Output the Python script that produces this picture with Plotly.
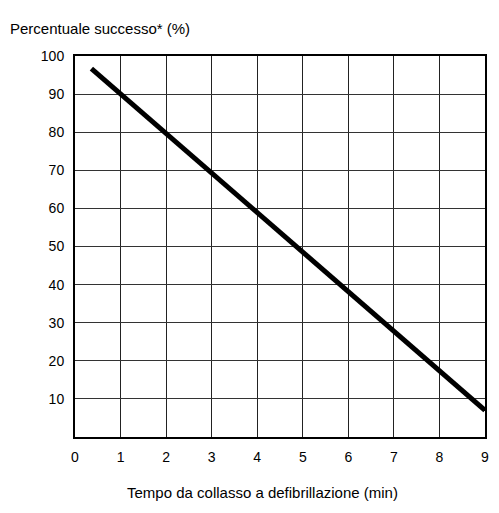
import plotly.graph_objects as go

# Values
minutes = [0.36, 9.0]
success_pct = [96.7, 7.0]

x_ticks = [0, 1, 2, 3, 4, 5, 6, 7, 8, 9]
y_ticks = [10, 20, 30, 40, 50, 60, 70, 80, 90, 100]

FONT = "Liberation Sans, Arial, Helvetica, sans-serif"

# the page adds an 8px body margin, so the figure is kept inside the window
W, H = 483, 497
L, R, T, B = 67, 6, 48, 68
PLOT_W = W - L - R
PLOT_H = H - T - B

fig = go.Figure(
    go.Scatter(
        x=minutes,
        y=success_pct,
        mode="lines",
        line=dict(color="#000000", width=5),
        showlegend=False,
        hoverinfo="skip",
    )
)

fig.update_layout(
    width=W,
    height=H,
    plot_bgcolor="#ffffff",
    paper_bgcolor="#ffffff",
    font=dict(family=FONT, size=14, color="#000000"),
    margin=dict(l=L, r=R, t=T, b=B),
    xaxis=dict(
        range=[0, 9],
        tickvals=x_ticks,
        showgrid=True,
        gridcolor="#222222",
        gridwidth=1.2,
        zeroline=False,
        showline=True,
        linecolor="#000000",
        linewidth=2,
        mirror=True,
        ticks="",
        ticklabelstandoff=6,
        ticklabeloverflow="allow",
        automargin=False,
    ),
    yaxis=dict(
        range=[0, 100],
        tickvals=y_ticks,
        showgrid=True,
        gridcolor="#333333",
        gridwidth=1.2,
        zeroline=False,
        showline=True,
        linecolor="#000000",
        linewidth=2,
        mirror=True,
        ticks="",
        ticklabelstandoff=6,
        automargin=False,
    ),
    annotations=[
        dict(
            text="Percentuale successo* (%)",
            xref="paper", yref="paper",
            x=-L / PLOT_W, y=1 + 28 / PLOT_H,
            xanchor="left", yanchor="middle",
            showarrow=False,
            font=dict(size=15),
        ),
        dict(
            text="Tempo da collasso a defibrillazione (min)",
            xref="paper", yref="paper",
            x=(254 - L) / PLOT_W, y=-55 / PLOT_H,
            xanchor="center", yanchor="middle",
            showarrow=False,
            font=dict(size=15),
        ),
    ],
)

fig.write_html("out.html")
